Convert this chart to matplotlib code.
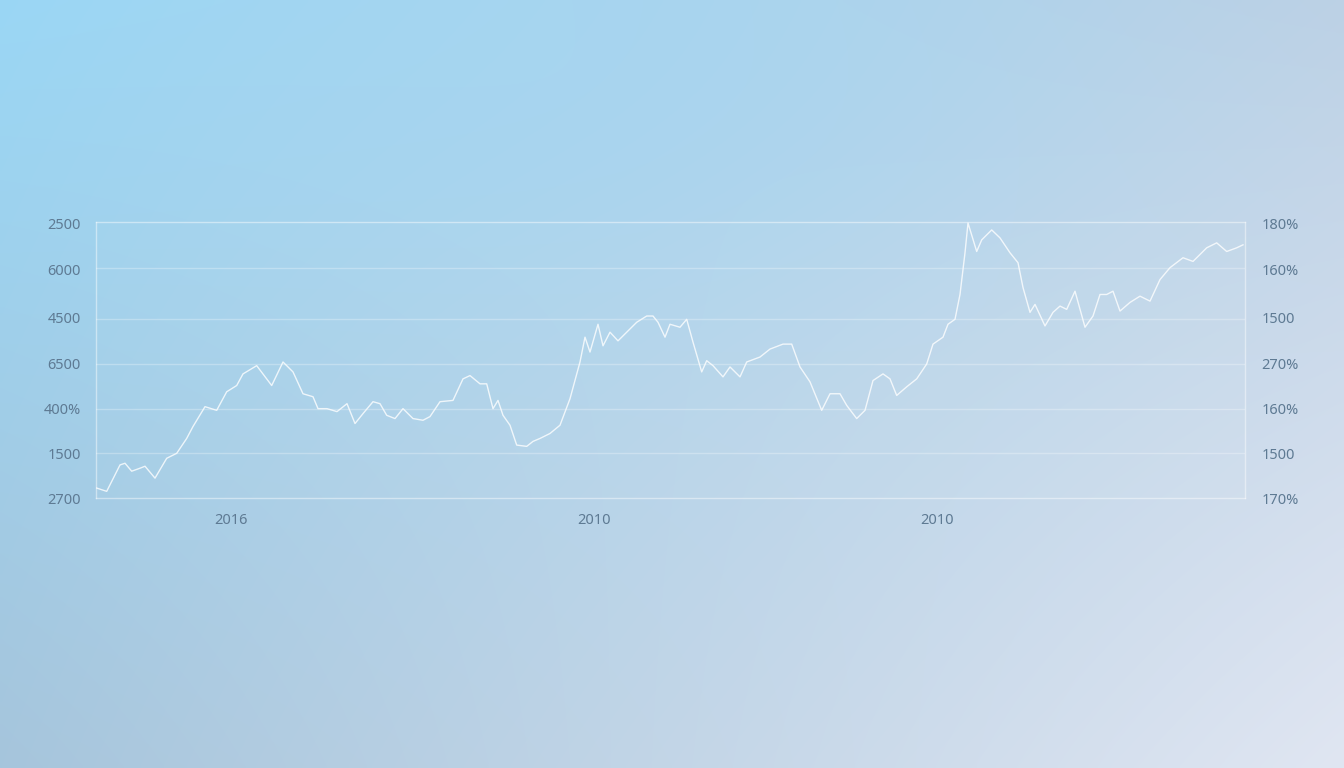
import numpy as np
import matplotlib
matplotlib.use("Agg")
import matplotlib.pyplot as plt
from matplotlib.colors import to_rgb

# ---- data: (position, level) readings of the line ----
series_x = [96.7, 106.7, 120, 125, 131.7, 140, 145, 155, 166.7, 176.7, 186.7, 193, 205, 216.7,
            226.7, 236.7, 243, 256.7, 271.7, 283, 293, 303, 313, 318, 327, 337, 347, 355, 363,
            373, 380, 386.7, 395, 403, 413, 423, 430, 440, 453, 463, 470, 480, 486.7, 493, 498,
            503, 510, 516.7, 526.7, 533, 540, 550, 560, 570, 580, 585, 590, 598, 603, 610, 618,
            626.7, 636.7, 646.7, 653, 658, 665, 670, 680, 686.7, 693, 701.7, 706.7, 713, 723,
            730, 740, 746.7, 760, 770, 783, 791.7, 800, 810, 821.7, 830, 840, 846.7, 856.7, 865,
            873, 883, 890, 896.7, 906.7, 916.7, 926.7, 933, 943, 948, 955, 960, 965, 968, 976.7,
            981.7, 991.7, 1000, 1010, 1018, 1023, 1030, 1035, 1045, 1053, 1060, 1066.7, 1075,
            1085, 1093, 1100, 1106.7, 1113, 1120, 1130, 1140, 1150, 1160, 1170, 1183, 1193,
            1206.7, 1216.7, 1226.7, 1236.7, 1243]
series_y = [490, 493.3, 466.7, 465, 473, 470, 468, 480, 460, 455, 440, 428, 408, 411.7,
            393, 386.7, 375, 366.7, 386.7, 363, 373, 395, 398, 410, 410, 413, 405, 425, 415,
            403, 405, 416.7, 420, 410, 420, 421.7, 418, 403, 401.7, 380, 376.7, 385, 385, 410, 401.7,
            416.7, 426.7, 446.7, 448, 443, 440, 435, 426.7, 400, 363, 338, 353, 325, 346.7, 333, 341.7,
            333, 323, 316.7, 316.7, 323, 338, 325, 328, 320, 343, 373, 361.7, 366.7, 378,
            368, 378, 363, 358, 350, 345, 345, 368, 383, 411.7, 395, 395, 406.7, 420, 411.7,
            381.7, 375, 380, 396.7, 388, 380, 365, 345, 338, 325, 320, 295, 253, 223, 251.7,
            240, 230, 238, 253, 263, 288, 313, 305, 326.7, 313, 306.7, 310, 291.7,
            328, 316.7, 295, 295, 291.7, 311.7, 303, 296.7, 301.7, 280, 268, 258, 261.7,
            248, 243, 251.7, 248, 245]

grid_levels = [268, 320, 365, 410, 455]
left_labels = ["2500", "6000", "4500", "6500", "400%", "1500", "2700"]
right_labels = ["180%", "160%", "1500", "270%", "160%", "1500", "170%"]
label_levels = [224, 270, 318, 365, 410, 455, 500]
x_tick_pos = [231, 594, 937]
x_labels = ["2016", "2010", "2010"]

W, H = 1344, 768
X0, X1, YTOP, YBOT = 96, 1245, 222, 498
fig = plt.figure(figsize=(W / 100, H / 100), dpi=100)

# ---- background gradient ----
bg = fig.add_axes([0, 0, 1, 1], zorder=-10)
bg.axis("off")
gy, gx = np.mgrid[0:1:200j, 0:1:350j]
tl = np.array(to_rgb("#9ad7f5"))
tr = np.array(to_rgb("#bdd1e5"))
bl = np.array(to_rgb("#a6c5dc"))
br = np.array(to_rgb("#e0e6f2"))
img = (tl * ((1 - gx) * (1 - gy))[..., None] + tr * (gx * (1 - gy))[..., None]
       + bl * ((1 - gx) * gy)[..., None] + br * (gx * gy)[..., None])
glow = np.exp(-(((gx - 0.45) / 0.35) ** 2 + ((gy - 0.1) / 0.3) ** 2))
img = img + glow[..., None] * (np.array(to_rgb("#a2d6f2")) - img) * 0.4
img = np.clip(img, 0, 1)
bg.imshow(img, aspect="auto", extent=[0, 1, 0, 1], origin="upper", interpolation="bilinear")
bg.set_xlim(0, 1)
bg.set_ylim(0, 1)

# ---- main axes (inverted level scale so readings map directly) ----
ax = fig.add_axes([X0 / W, 1 - YBOT / H, (X1 - X0) / W, (YBOT - YTOP) / H])
ax.set_facecolor((1, 1, 1, 0.03))
ax.set_xlim(X0, X1)
ax.set_ylim(YBOT, YTOP)

for g in grid_levels:
    ax.axhline(g, color="white", alpha=0.28, lw=1.0, zorder=1)

ax.plot(series_x, series_y, color="white", lw=1.0, alpha=0.8, zorder=3)

for s in ax.spines.values():
    s.set_color((1, 1, 1, 0.45))
    s.set_linewidth(1.0)

txt_color = "#5e7a93"
ax.set_yticks(label_levels)
ax.set_yticklabels(left_labels)
ax.set_xticks(x_tick_pos)
ax.set_xticklabels(x_labels)
ax.tick_params(axis="both", length=0, colors=txt_color, labelsize=10.5)
ax.tick_params(axis="y", pad=11)
ax.tick_params(axis="x", pad=11)

ax2 = ax.twinx()
ax2.set_ylim(YBOT, YTOP)
ax2.set_yticks(label_levels)
ax2.set_yticklabels(right_labels)
ax2.tick_params(axis="y", length=0, colors=txt_color, labelsize=10.5, pad=12)
for s in ax2.spines.values():
    s.set_visible(False)

for a in (ax, ax2):
    for lab in a.get_xticklabels() + a.get_yticklabels():
        lab.set_fontfamily("Noto Sans")

fig.savefig("out.png", dpi=100)
